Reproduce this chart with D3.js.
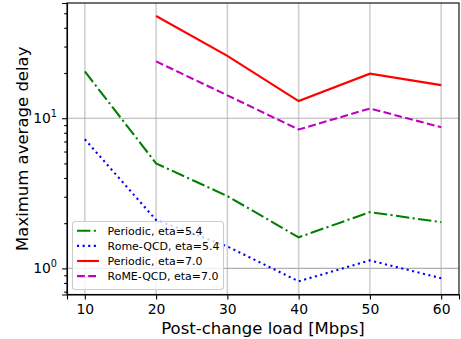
<!DOCTYPE html>
<html>
<head>
<meta charset="utf-8">
<script src="https://cdn.jsdelivr.net/npm/d3@7"></script>
<style>
  body { margin: 0; background: #fff; }
  text { font-family: "DejaVu Sans", sans-serif; }
</style>
</head>
<body>
<div id="chart"></div>
<script>
const loads = [10, 20, 30, 40, 50, 60];
const periodic54 = [20.5, 5.0, 3.03, 1.61, 2.37, 2.03];
const rome54 = [7.24, 2.1, 1.4, 0.82, 1.13, 0.86];
const periodic70 = [null, 47.9, 26.0, 13.0, 19.8, 16.6];
const rome70 = [null, 23.9, 14.2, 8.41, 11.6, 8.71];
const xTicks = [10, 20, 30, 40, 50, 60];

const series = [
  { label: 'Periodic, eta=5.4', values: periodic54, color: '#008000', dash: '13.4,3.4,2.1,3.4' },
  { label: 'Rome-QCD, eta=5.4', values: rome54, color: '#0000ff', dash: '2.1,3.5' },
  { label: 'Periodic, eta=7.0', values: periodic70, color: '#ff0000', dash: null },
  { label: 'RoME-QCD, eta=7.0', values: rome70, color: '#bf00bf', dash: '7.8,3.4' }
];

const width = 461;
const height = 339;
const margin = { left: 67, right: 2, top: 3, bottom: 44.5 };

const svg = d3.select('#chart')
  .append('svg')
  .attr('width', width)
  .attr('height', height);

const x = d3.scaleLinear()
  .domain([7.5, 62.5])
  .range([margin.left, width - margin.right]);

const y = d3.scaleLog()
  .domain([0.67, 58.5])
  .range([height - margin.bottom, margin.top]);

// grid
svg.append('g')
  .selectAll('line')
  .data(xTicks)
  .enter().append('line')
  .attr('x1', d => x(d)).attr('x2', d => x(d))
  .attr('y1', margin.top).attr('y2', height - margin.bottom)
  .attr('stroke', '#d0d0d0')
  .attr('stroke-width', 1.6);

svg.append('g')
  .selectAll('line')
  .data([1, 10])
  .enter().append('line')
  .attr('x1', margin.left).attr('x2', width - margin.right)
  .attr('y1', d => y(d)).attr('y2', d => y(d))
  .attr('stroke', '#b0b0b0')
  .attr('stroke-width', 1.1);

// lines
const line = d3.line()
  .defined(d => d[1] != null)
  .x(d => x(d[0]))
  .y(d => y(d[1]));

series.forEach(s => {
  svg.append('path')
    .datum(loads.map((l, i) => [l, s.values[i]]))
    .attr('fill', 'none')
    .attr('stroke', s.color)
    .attr('stroke-width', 2.1)
    .attr('stroke-dasharray', s.dash)
    .attr('d', line);
});

// axes
const xAxis = svg.append('g')
  .attr('transform', `translate(0,${height - margin.bottom})`)
  .call(d3.axisBottom(x).tickValues(xTicks).tickSize(4.9).tickPadding(4.5).tickFormat(d3.format('d')));
xAxis.selectAll('text').attr('font-size', 13.9).attr('fill', '#000').attr('font-family', 'DejaVu Sans');

const minorTicks = [];
[0.1, 1, 10].forEach(dec => {
  for (let k = 2; k <= 9; k++) {
    const v = dec * k;
    if (v >= y.domain()[0] && v <= y.domain()[1]) minorTicks.push(v);
  }
});

svg.append('g')
  .attr('transform', `translate(${margin.left},0)`)
  .call(d3.axisLeft(y).tickValues([1, 10]).tickSize(4.9).tickFormat(''));

svg.append('g')
  .attr('transform', `translate(${margin.left},0)`)
  .call(d3.axisLeft(y).tickValues(minorTicks).tickSize(2.8).tickFormat(''))
  .call(g => g.select('.domain').remove());

// y tick labels as 10^n
[[1, '0'], [10, '1']].forEach(([v, exp]) => {
  const t = svg.append('text')
    .attr('x', margin.left - 10)
    .attr('y', y(v) + 5)
    .attr('text-anchor', 'end')
    .attr('font-size', 13.9)
    .attr('fill', '#000');
  t.append('tspan').text('10');
  t.append('tspan').attr('dy', -6.5).attr('font-size', 9.7).text(exp);
});

svg.selectAll('.domain').attr('stroke', '#000').attr('stroke-width', 1.1);
svg.selectAll('.tick line').attr('stroke', '#000').attr('stroke-width', 1.1);

// frame (top and right spines)
svg.append('rect')
  .attr('x', margin.left)
  .attr('y', margin.top)
  .attr('width', width - margin.left - margin.right)
  .attr('height', height - margin.top - margin.bottom)
  .attr('fill', 'none')
  .attr('stroke', '#000')
  .attr('stroke-width', 1.1);

// axis labels
svg.append('text')
  .attr('x', (margin.left + width - margin.right) / 2)
  .attr('y', 334)
  .attr('text-anchor', 'middle')
  .attr('font-size', 16.5)
  .attr('fill', '#000')
  .text('Post-change load [Mbps]');

svg.append('text')
  .attr('transform', `translate(28,${(margin.top + height - margin.bottom) / 2}) rotate(-90)`)
  .attr('text-anchor', 'middle')
  .attr('font-size', 16.5)
  .attr('fill', '#000')
  .text('Maximum average delay');

// legend
const legend = svg.append('g')
  .attr('transform', 'translate(72.5, 221.5)');

legend.append('rect')
  .attr('width', 151)
  .attr('height', 68)
  .attr('rx', 3)
  .attr('fill', '#fff')
  .attr('fill-opacity', 0.8)
  .attr('stroke', '#cccccc')
  .attr('stroke-width', 1.1);

series.forEach((s, i) => {
  const ly = 9.3 + i * 15.1;
  legend.append('line')
    .attr('x1', 4.5).attr('x2', 26.5)
    .attr('y1', ly).attr('y2', ly)
    .attr('stroke', s.color)
    .attr('stroke-width', 2.1)
    .attr('stroke-dasharray', s.dash);
  legend.append('text')
    .attr('x', 35)
    .attr('y', ly + 4)
    .attr('font-size', 11)
    .attr('fill', '#000')
    .text(s.label);
});
</script>
</body>
</html>
